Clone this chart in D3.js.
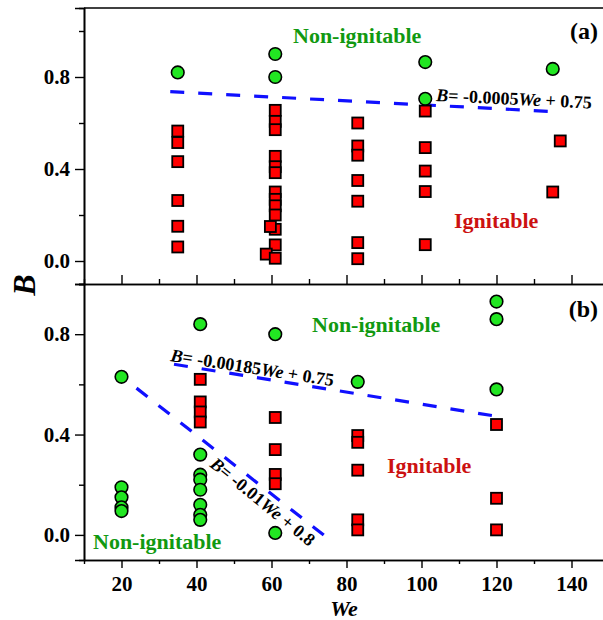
<!DOCTYPE html>
<html><head><meta charset="utf-8">
<script src="https://cdn.jsdelivr.net/npm/d3@7"></script>
<style>
body{margin:0;background:#fff;}
svg{display:block;}
text{font-family:"Liberation Serif","Times New Roman",serif;font-weight:bold;}
</style></head>
<body>
<script>
// ---- Data ----
const xTicks = [20, 40, 60, 80, 100, 120, 140];
const xMinorTicks = [10, 30, 50, 70, 90, 110, 130, 150];
const yTicks = [0.0, 0.4, 0.8];
const yMinorTicks = [0.2, 0.6, 1.0];

// Panel (a)
const aSquareWe = [35,35,35,35,35,35, 61,61,61,61,61,61,61,61,61,61,61,59.7,61,58.6,61, 83,83,83,83,83,83,83, 101,101,101,101,101, 137,135];
const aSquareB  = [0.565,0.515,0.432,0.263,0.151,0.061, 0.655,0.607,0.571,0.455,0.41,0.384,0.30,0.268,0.24,0.20,0.138,0.15,0.07,0.03,0.012, 0.60,0.50,0.46,0.35,0.26,0.08,0.01, 0.652,0.493,0.391,0.302,0.071, 0.522,0.30];
const aCircleWe = [35, 61, 61, 101, 101, 135];
const aCircleB  = [0.82, 0.90, 0.80, 0.865, 0.705, 0.835];
const aLineWe = [33, 137];
const aLineB  = [0.736, 0.648];

// Panel (b)
const bSquareWe = [41,41,41,41, 61,61,61,61, 83,83,83,83,83, 120,120,120];
const bSquareB  = [0.62,0.53,0.49,0.45, 0.468,0.34,0.241,0.204, 0.396,0.369,0.258,0.06,0.02, 0.44,0.146,0.02];
const bCircleWe = [20,20,20,20,20, 41,41,41,41,41,41,41,41, 61,61, 83, 120,120,120];
const bCircleB  = [0.63,0.19,0.15,0.11,0.095, 0.84,0.32,0.24,0.22,0.18,0.12,0.08,0.06, 0.80,0.008, 0.61, 0.93,0.86,0.58];
const bLine1We = [34, 122];
const bLine1B  = [0.68, 0.468];
const bLine2We = [24, 76];
const bLine2B  = [0.585, -0.025];

// ---- Drawing ----
const W = 603, H = 620;
const svg = d3.select("body").append("svg").attr("width", W).attr("height", H);

const x = d3.scaleLinear().domain([10, 150]).range([84, 609]);
const yA = d3.scaleLinear().domain([-0.1, 1.1]).range([284, 8]);
const yB = d3.scaleLinear().domain([-0.1, 1.0]).range([560, 284]);

const green = "#22e622", greenText = "#119911", red = "#ff0000", redText = "#cc1111", blue = "#1010ff";

function styleAxis(g){
  g.selectAll("path.domain").attr("stroke","#000").attr("stroke-width",1.6);
  g.selectAll(".tick line").attr("stroke","#000").attr("stroke-width",1.4);
  g.selectAll("text").attr("font-size",21).attr("fill","#000")
    .attr("font-family",'"Liberation Serif","Times New Roman",serif').attr("font-weight","bold");
}

function panel(y, sqWe, sqB, ciWe, ciB, lines){
  const gl = svg.append("g").attr("transform","translate(84,0)")
    .call(d3.axisLeft(y).tickValues(yTicks).tickFormat(d3.format(".1f")).tickSize(9).tickPadding(5));
  styleAxis(gl);
  const glm = svg.append("g").attr("transform","translate(84,0)")
    .call(d3.axisLeft(y).tickValues(yMinorTicks).tickFormat("").tickSize(5));
  styleAxis(glm);

  lines.forEach(l => {
    const pts = l[0].map((w,i)=>[w, l[1][i]]);
    svg.append("path").datum(pts)
      .attr("d", d3.line().x(d=>x(d[0])).y(d=>y(d[1])))
      .attr("fill","none").attr("stroke",blue).attr("stroke-width",3.2)
      .attr("stroke-dasharray","14,14");
  });

  svg.append("g").selectAll("rect").data(sqWe.map((w,i)=>[w,sqB[i]])).join("rect")
    .attr("x",d=>x(d[0])-5.5).attr("y",d=>y(d[1])-5.5)
    .attr("width",11).attr("height",11)
    .attr("fill",red).attr("stroke","#000").attr("stroke-width",1.8);

  svg.append("g").selectAll("circle").data(ciWe.map((w,i)=>[w,ciB[i]])).join("circle")
    .attr("cx",d=>x(d[0])).attr("cy",d=>y(d[1])).attr("r",6.3)
    .attr("fill",green).attr("stroke","#000").attr("stroke-width",1.6);
}

panel(yA, aSquareWe, aSquareB, aCircleWe, aCircleB, [[aLineWe, aLineB]]);
panel(yB, bSquareWe, bSquareB, bCircleWe, bCircleB, [[bLine1We, bLine1B],[bLine2We, bLine2B]]);

// top frame line of panel (a)
svg.append("line").attr("x1",84).attr("x2",W).attr("y1",8).attr("y2",8)
  .attr("stroke","#000").attr("stroke-width",1.6);

// panel (a) bottom axis (ticks inward, no labels)
const gaT = svg.append("g").attr("transform","translate(0,284)")
  .call(d3.axisTop(x).tickValues(xTicks).tickFormat("").tickSize(9).tickSizeOuter(0));
styleAxis(gaT);
const gaTm = svg.append("g").attr("transform","translate(0,284)")
  .call(d3.axisTop(x).tickValues(xMinorTicks).tickFormat("").tickSize(5).tickSizeOuter(0));
styleAxis(gaTm);

// panel (b) bottom axis
const gb = svg.append("g").attr("transform","translate(0,560)")
  .call(d3.axisBottom(x).tickValues(xTicks).tickSize(8).tickPadding(8).tickSizeOuter(0));
styleAxis(gb);
const gbm = svg.append("g").attr("transform","translate(0,560)")
  .call(d3.axisBottom(x).tickValues(xMinorTicks).tickFormat("").tickSize(4).tickSizeOuter(0));
styleAxis(gbm);

// Axis titles
svg.append("text").attr("transform","translate(35,285) rotate(-90)")
  .attr("text-anchor","middle").attr("font-size",32).attr("font-style","italic").text("B");
svg.append("text").attr("x",344).attr("y",616).attr("text-anchor","middle")
  .attr("font-size",22).attr("font-style","italic").text("We");

// Panel labels
svg.append("text").attr("x",598).attr("y",39).attr("text-anchor","end").attr("font-size",24).text("(a)");
svg.append("text").attr("x",598).attr("y",317).attr("text-anchor","end").attr("font-size",24).text("(b)");

// Region labels
function lab(tx, px, py, col){
  svg.append("text").attr("x",px).attr("y",py).attr("font-size",22).attr("fill",col).text(tx);
}
lab("Non-ignitable", 293, 43, greenText);
lab("Ignitable", 454, 228, redText);
lab("Non-ignitable", 312, 332, greenText);
lab("Ignitable", 387, 473, redText);
lab("Non-ignitable", 93, 549, greenText);

// Equations
function eq(px, py, ang, a, b){
  const t = svg.append("text").attr("transform",`translate(${px},${py}) rotate(${ang})`)
    .attr("font-size",18).attr("fill","#000");
  t.append("tspan").attr("font-style","italic").text("B");
  t.append("tspan").text("= " + a);
  t.append("tspan").attr("font-style","italic").text("We");
  t.append("tspan").text(" + " + b);
}
eq(436, 101, 2.8, "-0.0005", "0.75");
eq(170, 361, 8.8, "-0.00185", "0.75");
eq(209, 466, 39, "-0.01", "0.8");
</script>
</body></html>
